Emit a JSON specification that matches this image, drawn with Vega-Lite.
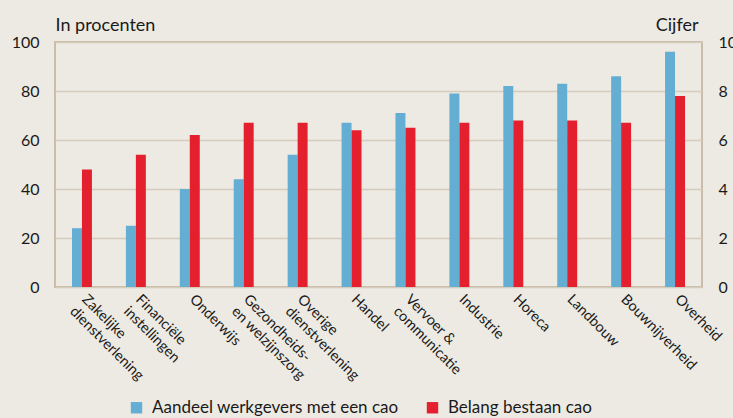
{
  "$schema": "https://vega.github.io/schema/vega-lite/v6.json",
  "width": 647,
  "height": 245,
  "autosize": {"type": "none"},
  "padding": {"left": 55, "top": 42, "right": 31, "bottom": 131},
  "background": "#edeae3",
  "config": {
    "font": "Lato",
    "view": {"stroke": "#c9bda9", "strokeWidth": 2},
    "axis": {"domain": false, "ticks": false, "labelColor": "#1a1a1a", "titleColor": "#1a1a1a", "labelFont": "Lato", "titleFont": "Lato"}
  },
  "data": {
    "values": [
      {"sector": "Zakelijke|dienstverlening", "serie": "Aandeel werkgevers met een cao", "waarde": 24},
      {"sector": "Financiële|instellingen", "serie": "Aandeel werkgevers met een cao", "waarde": 25},
      {"sector": "Onderwijs", "serie": "Aandeel werkgevers met een cao", "waarde": 40},
      {"sector": "Gezondheids-|en welzijnszorg", "serie": "Aandeel werkgevers met een cao", "waarde": 44},
      {"sector": "Overige|dienstverlening", "serie": "Aandeel werkgevers met een cao", "waarde": 54},
      {"sector": "Handel", "serie": "Aandeel werkgevers met een cao", "waarde": 67},
      {"sector": "Vervoer &|communicatie", "serie": "Aandeel werkgevers met een cao", "waarde": 71},
      {"sector": "Industrie", "serie": "Aandeel werkgevers met een cao", "waarde": 79},
      {"sector": "Horeca", "serie": "Aandeel werkgevers met een cao", "waarde": 82},
      {"sector": "Landbouw", "serie": "Aandeel werkgevers met een cao", "waarde": 83},
      {"sector": "Bouwnijverheid", "serie": "Aandeel werkgevers met een cao", "waarde": 86},
      {"sector": "Overheid", "serie": "Aandeel werkgevers met een cao", "waarde": 96},
      {"sector": "Zakelijke|dienstverlening", "serie": "Belang bestaan cao", "waarde": 4.8},
      {"sector": "Financiële|instellingen", "serie": "Belang bestaan cao", "waarde": 5.4},
      {"sector": "Onderwijs", "serie": "Belang bestaan cao", "waarde": 6.2},
      {"sector": "Gezondheids-|en welzijnszorg", "serie": "Belang bestaan cao", "waarde": 6.7},
      {"sector": "Overige|dienstverlening", "serie": "Belang bestaan cao", "waarde": 6.7},
      {"sector": "Handel", "serie": "Belang bestaan cao", "waarde": 6.4},
      {"sector": "Vervoer &|communicatie", "serie": "Belang bestaan cao", "waarde": 6.5},
      {"sector": "Industrie", "serie": "Belang bestaan cao", "waarde": 6.7},
      {"sector": "Horeca", "serie": "Belang bestaan cao", "waarde": 6.8},
      {"sector": "Landbouw", "serie": "Belang bestaan cao", "waarde": 6.8},
      {"sector": "Bouwnijverheid", "serie": "Belang bestaan cao", "waarde": 6.7},
      {"sector": "Overheid", "serie": "Belang bestaan cao", "waarde": 7.8}
    ]
  },
  "encoding": {
    "x": {
      "field": "sector",
      "type": "nominal",
      "sort": null,
      "scale": {"paddingInner": 0.63, "paddingOuter": 0.315},
      "axis": {
        "title": null,
        "labelExpr": "split(datum.label, '|')",
        "labelAngle": 45,
        "labelAlign": "left",
        "labelBaseline": "top",
        "labelPadding": 5,
        "labelOffset": 7,
        "labelFontSize": 14.5,
        "labelLineHeight": 17,
        "labelOverlap": false,
        "labelBound": false,
        "labelLimit": 300
      }
    },
    "xOffset": {
      "field": "serie",
      "type": "nominal",
      "scale": {"domain": ["Aandeel werkgevers met een cao", "Belang bestaan cao"], "paddingInner": 0, "paddingOuter": 0}
    },
    "color": {
      "field": "serie",
      "type": "nominal",
      "scale": {"domain": ["Aandeel werkgevers met een cao", "Belang bestaan cao"], "range": ["#64aed4", "#e4202f"]},
      "legend": {
        "title": null,
        "orient": "none",
        "direction": "horizontal",
        "legendX": 73,
        "legendY": 357,
        "symbolType": "square",
        "symbolSize": 130,
        "symbolStrokeWidth": 0,
        "labelFontSize": 17,
        "labelLimit": 500,
        "labelColor": "#1a1a1a",
        "labelOffset": 7,
        "columnPadding": 25
      }
    }
  },
  "layer": [
    {
      "transform": [{"filter": "datum.serie === 'Aandeel werkgevers met een cao'"}],
      "mark": {"type": "bar"},
      "encoding": {
        "y": {
          "field": "waarde",
          "type": "quantitative",
          "scale": {"domain": [0, 100]},
          "axis": {
            "orient": "left",
            "values": [0, 20, 40, 60, 80, 100],
            "labelFontSize": 16,
            "labelPadding": 16,
            "grid": true,
            "gridColor": "#d6ccbc",
            "gridWidth": 1.5,
            "title": "In procenten",
            "titleAngle": 0,
            "titleAlign": "left",
            "titleBaseline": "alphabetic",
            "titleX": 0,
            "titleY": -12,
            "titleFontSize": 18,
            "titleFontWeight": "normal"
          }
        }
      }
    },
    {
      "transform": [{"filter": "datum.serie === 'Belang bestaan cao'"}],
      "mark": {"type": "bar"},
      "encoding": {
        "y": {
          "field": "waarde",
          "type": "quantitative",
          "scale": {"domain": [0, 10]},
          "axis": {
            "orient": "right",
            "values": [0, 2, 4, 6, 8, 10],
            "labelFontSize": 16,
            "labelPadding": 16,
            "labelAlign": "left",
            "grid": false,
            "title": "Cijfer",
            "titleAngle": 0,
            "titleAlign": "right",
            "titleBaseline": "alphabetic",
            "titleX": -4,
            "titleY": -12,
            "titleFontSize": 18,
            "titleFontWeight": "normal"
          }
        }
      }
    }
  ],
  "resolve": {"scale": {"y": "independent"}}
}
